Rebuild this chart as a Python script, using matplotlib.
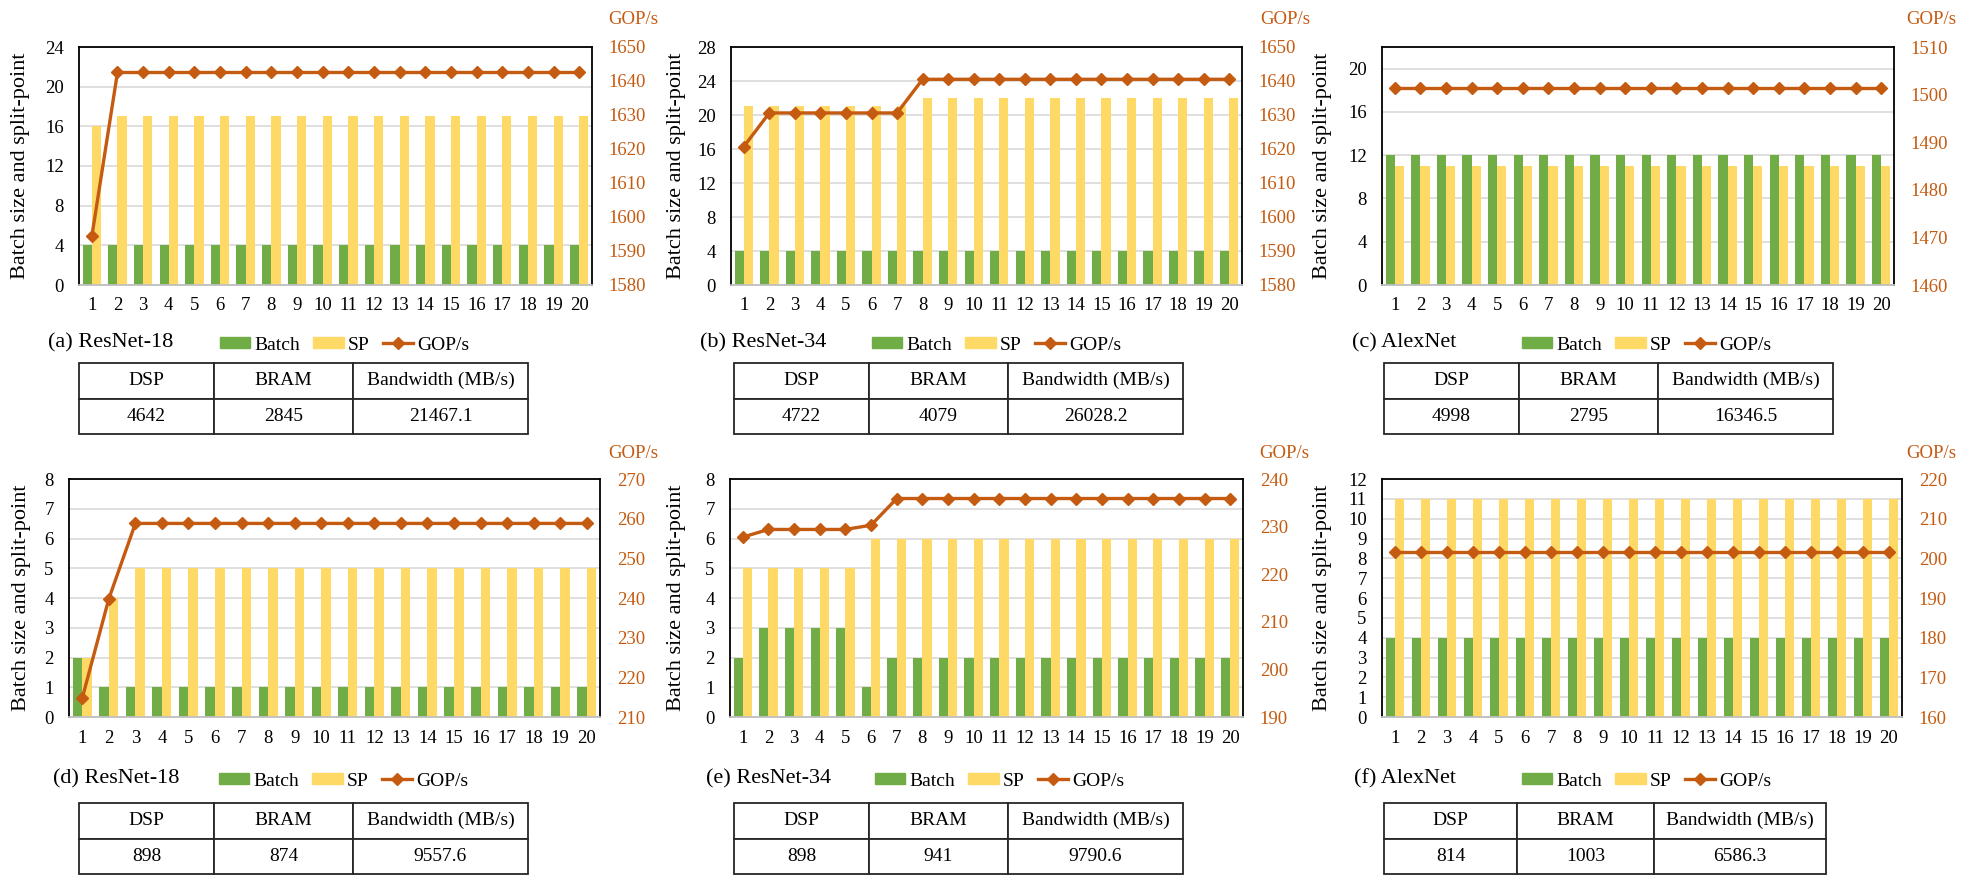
import matplotlib
matplotlib.use('Agg')
import matplotlib.pyplot as plt
from matplotlib.patches import Patch
from matplotlib.lines import Line2D

plt.rcParams['font.family'] = ['Liberation Serif', 'DejaVu Serif']

# ---- data ----
steps = [1, 2, 3, 4, 5, 6, 7, 8, 9, 10, 11, 12, 13, 14, 15, 16, 17, 18, 19, 20]

batch_a = [4, 4, 4, 4, 4, 4, 4, 4, 4, 4, 4, 4, 4, 4, 4, 4, 4, 4, 4, 4]
sp_a = [16, 17, 17, 17, 17, 17, 17, 17, 17, 17, 17, 17, 17, 17, 17, 17, 17, 17, 17, 17]
gops_a = [1594.3, 1642.5, 1642.5, 1642.5, 1642.5, 1642.5, 1642.5, 1642.5, 1642.5, 1642.5,
          1642.5, 1642.5, 1642.5, 1642.5, 1642.5, 1642.5, 1642.5, 1642.5, 1642.5, 1642.5]

batch_b = [4, 4, 4, 4, 4, 4, 4, 4, 4, 4, 4, 4, 4, 4, 4, 4, 4, 4, 4, 4]
sp_b = [21, 21, 21, 21, 21, 21, 21, 22, 22, 22, 22, 22, 22, 22, 22, 22, 22, 22, 22, 22]
gops_b = [1620.7, 1630.6, 1630.6, 1630.6, 1630.6, 1630.6, 1630.6, 1640.5, 1640.5, 1640.5,
          1640.5, 1640.5, 1640.5, 1640.5, 1640.5, 1640.5, 1640.5, 1640.5, 1640.5, 1640.5]

batch_c = [12, 12, 12, 12, 12, 12, 12, 12, 12, 12, 12, 12, 12, 12, 12, 12, 12, 12, 12, 12]
sp_c = [11, 11, 11, 11, 11, 11, 11, 11, 11, 11, 11, 11, 11, 11, 11, 11, 11, 11, 11, 11]
gops_c = [1501.3, 1501.3, 1501.3, 1501.3, 1501.3, 1501.3, 1501.3, 1501.3, 1501.3, 1501.3,
          1501.3, 1501.3, 1501.3, 1501.3, 1501.3, 1501.3, 1501.3, 1501.3, 1501.3, 1501.3]

batch_d = [2, 1, 1, 1, 1, 1, 1, 1, 1, 1, 1, 1, 1, 1, 1, 1, 1, 1, 1, 1]
sp_d = [2, 4, 5, 5, 5, 5, 5, 5, 5, 5, 5, 5, 5, 5, 5, 5, 5, 5, 5, 5]
gops_d = [214.8, 239.8, 258.8, 258.8, 258.8, 258.8, 258.8, 258.8, 258.8, 258.8,
          258.8, 258.8, 258.8, 258.8, 258.8, 258.8, 258.8, 258.8, 258.8, 258.8]

batch_e = [2, 3, 3, 3, 3, 1, 2, 2, 2, 2, 2, 2, 2, 2, 2, 2, 2, 2, 2, 2]
sp_e = [5, 5, 5, 5, 5, 6, 6, 6, 6, 6, 6, 6, 6, 6, 6, 6, 6, 6, 6, 6]
gops_e = [227.8, 229.4, 229.4, 229.4, 229.4, 230.3, 235.9, 235.9, 235.9, 235.9,
          235.9, 235.9, 235.9, 235.9, 235.9, 235.9, 235.9, 235.9, 235.9, 235.9]

batch_f = [4, 4, 4, 4, 4, 4, 4, 4, 4, 4, 4, 4, 4, 4, 4, 4, 4, 4, 4, 4]
sp_f = [11, 11, 11, 11, 11, 11, 11, 11, 11, 11, 11, 11, 11, 11, 11, 11, 11, 11, 11, 11]
gops_f = [201.5, 201.5, 201.5, 201.5, 201.5, 201.5, 201.5, 201.5, 201.5, 201.5,
          201.5, 201.5, 201.5, 201.5, 201.5, 201.5, 201.5, 201.5, 201.5, 201.5]

titles = ['(a) ResNet-18', '(b) ResNet-34', '(c) AlexNet',
          '(d) ResNet-18', '(e) ResNet-34', '(f) AlexNet']
table_header = ['DSP', 'BRAM', 'Bandwidth (MB/s)']
res_a = ['4642', '2845', '21467.1']
res_b = ['4722', '4079', '26028.2']
res_c = ['4998', '2795', '16346.5']
res_d = ['898', '874', '9557.6']
res_e = ['898', '941', '9790.6']
res_f = ['814', '1003', '6586.3']

# axis ranges: (left max, left step, left tick max) and (right min, right max)
left_ax = [(24, 4, 24), (28, 4, 28), (22, 4, 20), (8, 1, 8), (8, 1, 8), (12, 1, 12)]
right_ax = [(1580, 1650), (1580, 1650), (1460, 1510), (210, 270), (190, 240), (160, 220)]

panels = [(batch_a, sp_a, gops_a, res_a), (batch_b, sp_b, gops_b, res_b),
          (batch_c, sp_c, gops_c, res_c), (batch_d, sp_d, gops_d, res_d),
          (batch_e, sp_e, gops_e, res_e), (batch_f, sp_f, gops_f, res_f)]

# ---- layout in pixels ----
W, H = 1986, 880
# axes x0, x1, ylabel x, GOP/s label x, title x, legend x, table x0, x1
layout = [(79, 592, 21, 633, 48, 220, 79, 528),
          (731, 1242, 676, 1285, 700, 872, 734, 1183),
          (1382, 1894, 1323, 1931, 1352, 1522, 1384, 1833),
          (69, 600, 22, 633, 53, 219, 79, 528),
          (730, 1243, 676, 1284, 706, 875, 734, 1183),
          (1382, 1902, 1323, 1931, 1354, 1522, 1384, 1826)]
# per row: axes y0, y1, GOP/s y, title y, table y0, y1
rows = [(47, 285, 20, 343, 363, 434), (479, 717, 453, 779, 803, 874)]

GREEN = '#70AD47'
YELLOW = '#FFD966'
ORANGE = '#C55A11'


def fx(x):
    return x / W


def fy(y):
    return 1 - y / H


fig = plt.figure(figsize=(W / 100, H / 100), dpi=100)

for i, (batch, sp, gops, res) in enumerate(panels):
    x0, x1, ylab_x, gop_x, tit_x, leg_x, tx0, tx1 = layout[i]
    y0, y1, gop_y, tit_y, ty0, ty1 = rows[i // 3]

    ax = fig.add_axes([fx(x0), fy(y1), (x1 - x0) / W, (y1 - y0) / H])
    xs = steps
    ax.bar([x - 0.18 for x in xs], batch, width=0.36, color=GREEN, zorder=2)
    ax.bar([x + 0.18 for x in xs], sp, width=0.36, color=YELLOW, zorder=2)
    lmax, lstep, ltop = left_ax[i]
    ax.set_ylim(0, lmax)
    ax.set_yticks(range(0, ltop + 1, lstep))
    ax.set_xlim(0.5, 20.5)
    ax.set_xticks(xs)
    ax.yaxis.grid(True, color='#D9D9D9', lw=1.2)
    ax.set_axisbelow(True)
    ax.tick_params(axis='both', length=0, labelsize=13.5)
    ax.tick_params(axis='x', pad=9)
    ax.tick_params(axis='y', pad=11)
    for s in ['left', 'right', 'top']:
        ax.spines[s].set_color('black')
        ax.spines[s].set_linewidth(1.3)
    ax.spines['bottom'].set_color('#BFBFBF')
    ax.spines['bottom'].set_linewidth(1.3)

    ax2 = ax.twinx()
    ax2.plot(xs, gops, color=ORANGE, lw=2.4, marker='D', ms=6.5, zorder=3)
    rmin, rmax = right_ax[i]
    ax2.set_ylim(rmin, rmax)
    ax2.set_yticks(range(rmin, rmax + 1, 10))
    ax2.tick_params(axis='y', length=0, labelsize=13.5, labelcolor=ORANGE, pad=12)
    for s in ax2.spines.values():
        s.set_visible(False)

    fig.text(fx(ylab_x), fy((y0 + y1) / 2), 'Batch size and split-point', rotation=90,
             ha='center', va='center', fontsize=16)
    fig.text(fx(gop_x), fy(gop_y), 'GOP/s', ha='center', va='center', fontsize=13.5,
             color=ORANGE)
    fig.text(fx(tit_x), fy(tit_y), titles[i], ha='left', va='center', fontsize=16)

    handles = [Patch(color=GREEN, label='Batch'), Patch(color=YELLOW, label='SP'),
               Line2D([], [], color=ORANGE, lw=2.4, marker='D', ms=6.5, label='GOP/s')]
    fig.legend(handles=handles, loc='center left', bbox_to_anchor=(fx(leg_x), fy(tit_y + 2)),
               ncol=3, frameon=False, fontsize=14, handlelength=1.55, handleheight=0.5,
               handletextpad=0.2, columnspacing=0.7, borderpad=0, borderaxespad=0)

    tax = fig.add_axes([fx(tx0), fy(ty1), (tx1 - tx0) / W, (ty1 - ty0) / H])
    tax.axis('off')
    tb = tax.table(cellText=[table_header, res], cellLoc='center', bbox=[0, 0, 1, 1],
                   colWidths=[0.301, 0.309, 0.39])
    tb.auto_set_font_size(False)
    tb.set_fontsize(14)
    for cell in tb.get_celld().values():
        cell.set_edgecolor('#262626')
        cell.set_linewidth(1.3)

fig.savefig('out.png', dpi=100)
